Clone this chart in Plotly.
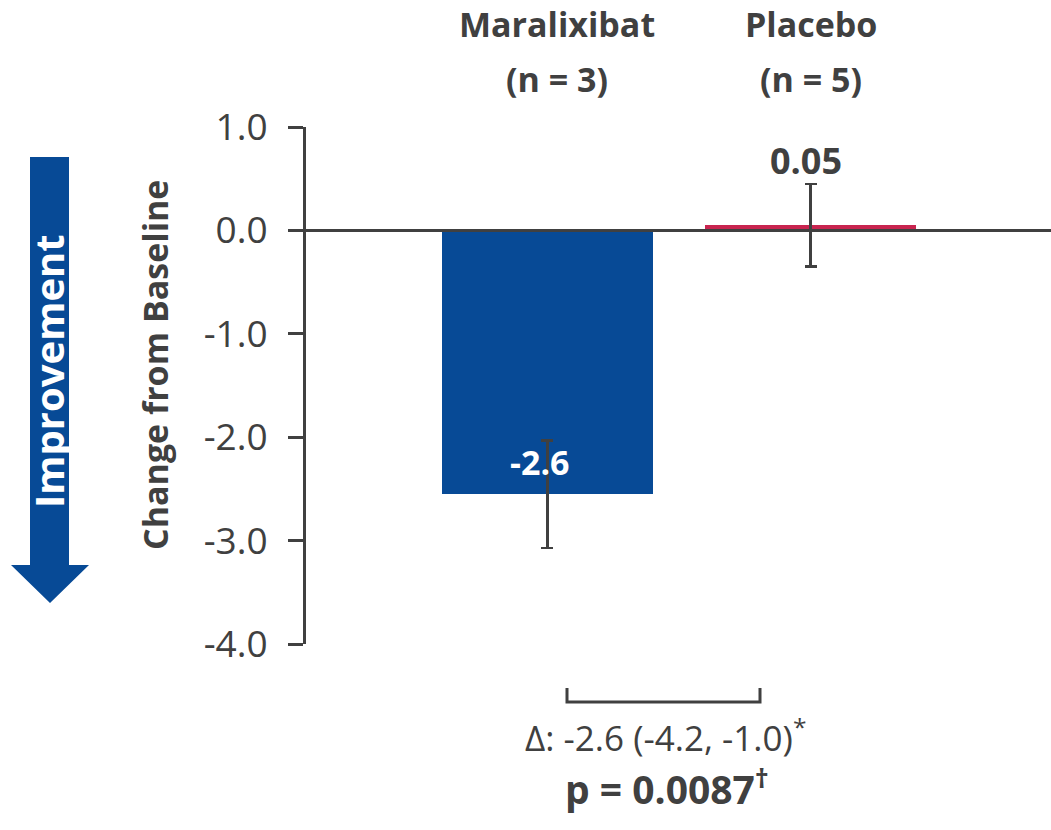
import plotly.graph_objects as go

# ---- data ----
groups = ["Maralixibat", "Placebo"]
group_n = ["(n = 3)", "(n = 5)"]
values = [-2.55, 0.05]
errors = [0.52, 0.40]
value_labels = ["-2.6", "0.05"]
bar_colors = ["#074A96", "#C8244F"]
y_ticks = [1.0, 0.0, -1.0, -2.0, -3.0, -4.0]
y_ticklabels = ["1.0", "0.0", "-1.0", "-2.0", "-3.0", "-4.0"]
delta_text = "Δ: -2.6 (-4.2, -1.0)<sup>*</sup>"
p_text = "<b>p = 0.0087<sup>†</sup></b>"

W, H = 1051, 830
ML, MR, MT, MB = 306, 0, 127, 186
PW, PH = W - ML - MR, H - MT - MB


def px(x):
    return (x - ML) / PW


def py(y):
    return (H - MB - y) / PH


FONT = "Open Sans"
GREY = "#404040"
xpos = [0, 1]

fig = go.Figure()
fig.add_trace(go.Bar(
    x=xpos, y=values, width=0.8,
    marker=dict(color=bar_colors, line=dict(width=0)),
    error_y=dict(type="data", array=errors, visible=True,
                 color=GREY, thickness=2.5, width=6),
    hoverinfo="skip", showlegend=False,
))

annotations = []
# group labels on top
for i, (g, n) in enumerate(zip(groups, group_n)):
    shift = 10 if i == 0 else 0
    annotations.append(dict(x=xpos[i], xref="x", y=py(24), yref="paper",
                            text=f"<b>{g}</b>", showarrow=False, xshift=shift,
                            font=dict(family=FONT, size=34, color=GREY),
                            xanchor="center", yanchor="middle"))
    annotations.append(dict(x=xpos[i], xref="x", y=py(79), yref="paper",
                            text=f"<b>{n}</b>", showarrow=False, xshift=shift,
                            font=dict(family=FONT, size=34, color=GREY),
                            xanchor="center", yanchor="middle"))

# value labels
annotations.append(dict(x=xpos[0], y=values[0], text=f"<b>{value_labels[0]}</b>",
                        showarrow=False, yshift=32, xshift=-7,
                        font=dict(family=FONT, size=34, color="white"),
                        xanchor="center", yanchor="middle"))
annotations.append(dict(x=xpos[1], y=values[1] + errors[1], text=f"<b>{value_labels[1]}</b>",
                        showarrow=False, yshift=23, xshift=-5,
                        font=dict(family=FONT, size=36, color=GREY),
                        xanchor="center", yanchor="middle"))

# y-axis title
annotations.append(dict(x=px(155), xref="paper", y=py(365), yref="paper",
                        text="<b>Change from Baseline</b>", textangle=-90,
                        showarrow=False,
                        font=dict(family=FONT, size=34, color=GREY),
                        xanchor="center", yanchor="middle"))
# Improvement text
annotations.append(dict(x=px(48), xref="paper", y=py(371), yref="paper",
                        text="<b>Improvement</b>", textangle=-90,
                        showarrow=False,
                        font=dict(family=FONT, size=40, color="white"),
                        xanchor="center", yanchor="middle"))
# bottom texts
annotations.append(dict(x=px(665), xref="paper", y=py(735), yref="paper",
                        text=delta_text, showarrow=False,
                        font=dict(family=FONT, size=35, color=GREY),
                        xanchor="center", yanchor="middle"))
annotations.append(dict(x=px(667), xref="paper", y=py(787), yref="paper",
                        text=p_text, showarrow=False,
                        font=dict(family=FONT, size=39, color=GREY),
                        xanchor="center", yanchor="middle"))

shapes = []
# zero line
shapes.append(dict(type="line", xref="paper", yref="y", x0=0, x1=1, y0=0, y1=0,
                   line=dict(color=GREY, width=3), layer="above"))
# bracket
bx0, bx1, by0, by1 = px(567), px(760), py(688), py(702)
shapes.append(dict(type="path", xref="paper", yref="paper",
                   path=f"M {bx0} {by0} L {bx0} {by1} L {bx1} {by1} L {bx1} {by0}",
                   line=dict(color=GREY, width=3)))
# improvement arrow
ax = [px(30), px(69), px(11), px(89), px(50)]
ay = [py(157), py(565), py(603)]
shapes.append(dict(type="path", xref="paper", yref="paper",
                   path=(f"M {ax[0]} {ay[0]} L {ax[1]} {ay[0]} L {ax[1]} {ay[1]} "
                         f"L {ax[3]} {ay[1]} L {ax[4]} {ay[2]} L {ax[2]} {ay[1]} "
                         f"L {ax[0]} {ay[1]} Z"),
                   fillcolor="#074A96", line=dict(width=0), layer="below"))

fig.update_layout(
    width=W, height=H,
    margin=dict(l=ML, r=MR, t=MT, b=MB),
    paper_bgcolor="white", plot_bgcolor="white",
    xaxis=dict(range=[-0.918, 1.914], visible=False, fixedrange=True),
    yaxis=dict(range=[-4.0, 1.0], tickvals=y_ticks, ticktext=y_ticklabels,
               showgrid=False, zeroline=False, showline=True,
               linecolor=GREY, linewidth=3, ticks="outside", ticklen=15,
               tickwidth=3, tickcolor=GREY, ticklabelstandoff=13,
               tickfont=dict(family=FONT, size=37, color=GREY),
               fixedrange=True),
    annotations=annotations, shapes=shapes,
    bargap=0, showlegend=False,
)

fig.write_html("out.html")
